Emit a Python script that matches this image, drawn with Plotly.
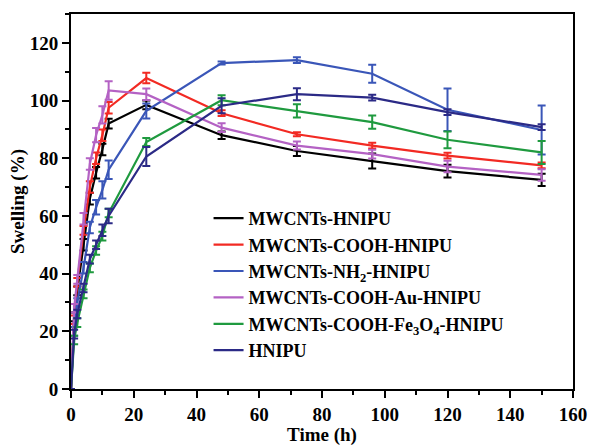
import plotly.graph_objects as go

time_h = [0, 1, 2, 4, 6, 8, 10, 12, 24, 48, 72, 96, 120, 150]

names = [
    "MWCNTs-HNIPU",
    "MWCNTs-COOH-HNIPU",
    "MWCNTs-NH<sub>2</sub>-HNIPU",
    "MWCNTs-COOH-Au-HNIPU",
    "MWCNTs-COOH-Fe<sub>3</sub>O<sub>4</sub>-HNIPU",
    "HNIPU",
]

black_vals = [0, 25, 34, 50, 66, 75, 83, 92, 98.5, 88, 82.5, 79, 75.5, 72.5]
red_vals = [0, 24, 37, 55, 70, 80, 88, 97.5, 107.8, 95.6, 88.3, 84.4, 80.9, 77.5]
blue_vals = [0, 20, 30, 42, 56, 63, 69, 76, 96.4, 113, 114, 109.3, 96.8, 89.8]
purple_vals = [0, 28, 38, 59, 78, 88, 95, 103.5, 102.2, 90.6, 84.4, 81.4, 77.1, 74.2]
green_vals = [0, 17, 23, 33, 42, 48, 53, 61, 85.6, 100.1, 96.4, 92.5, 86.4, 82]
navy_vals = [0, 19, 26, 35, 45, 50, 55, 60, 80.6, 98.2, 102.2, 101, 96, 90.8]

black_err = [0, 1.5, 1.5, 2, 2, 2, 2, 1.7, 1.5, 1.3, 1.7, 2.6, 2.2, 2.1]
red_err = [0, 1.5, 1.5, 1.5, 2, 2, 2, 2, 1.8, 1.0, 0.7, 1.0, 1.0, 1.0]
blue_err = [0, 1.5, 1.5, 2, 2, 2.5, 3, 3.2, 2.6, 0.5, 1.0, 3.1, 7.4, 8.5]
purple_err = [0, 1.5, 1.5, 2, 2, 2.5, 3, 3.2, 2.0, 1.5, 1.4, 1.5, 2.0, 2.0]
green_err = [0, 1.5, 1.5, 1.5, 1.5, 1.5, 1.5, 1.5, 1.4, 1.7, 2.3, 2.3, 2.9, 4.0]
navy_err = [0, 1.5, 1.5, 1.5, 1.5, 1.5, 2, 2.5, 3.3, 2.6, 2.1, 1.0, 1.0, 1.0]

colors = ["#000000", "#f22a23", "#3a56b8", "#b462c4", "#1f9a3f", "#2b2a86"]
series = [black_vals, red_vals, blue_vals, purple_vals, green_vals, navy_vals]
errors = [black_err, red_err, blue_err, purple_err, green_err, navy_err]

fig = go.Figure()
for name, vals, err, col in zip(names, series, errors, colors):
    fig.add_trace(go.Scatter(
        x=time_h, y=vals, name=name, mode="lines",
        line=dict(color=col, width=2.2),
        error_y=dict(type="data", array=err, visible=True, color=col, thickness=2, width=4),
    ))

font_family = "Liberation Serif"
axis_common = dict(
    showline=True, linecolor="black", linewidth=2, mirror=True,
    ticks="outside", ticklen=7, tickwidth=2, tickcolor="black",
    showgrid=False, zeroline=False, automargin=False,
    tickfont=dict(family=font_family, size=19, color="black", weight="bold"),
    minor=dict(ticks="outside", ticklen=4, tickwidth=2, tickcolor="black", showgrid=False),
)

fig.update_layout(
    width=590, height=446,
    margin=dict(l=71, r=17, t=14, b=57),
    paper_bgcolor="white", plot_bgcolor="white",
    font=dict(family=font_family, color="black"),
    showlegend=True,
    legend=dict(
        x=0.274, y=0.504, xanchor="left", yanchor="top",
        bgcolor="rgba(0,0,0,0)", borderwidth=0,
        font=dict(family=font_family, size=18, color="black", weight="bold"),
        itemwidth=30,
    ),
    xaxis=dict(
        range=[0, 160], tickvals=[0, 20, 40, 60, 80, 100, 120, 140, 160],
        title=dict(text="Time (h)", font=dict(family=font_family, size=19, color="black", weight="bold"), standoff=4),
        **axis_common,
    ),
    yaxis=dict(
        range=[0, 130], tickvals=[0, 20, 40, 60, 80, 100, 120],
        title=dict(text="Swelling (%)", font=dict(family=font_family, size=19, color="black", weight="bold"), standoff=0),
        **axis_common,
    ),
)
fig.update_xaxes(minor=dict(dtick=10, tick0=0))
fig.update_yaxes(minor=dict(dtick=10, tick0=0))

fig.write_html("out.html", config={"displayModeBar": False},
               post_script="document.body.style.margin='0';")
